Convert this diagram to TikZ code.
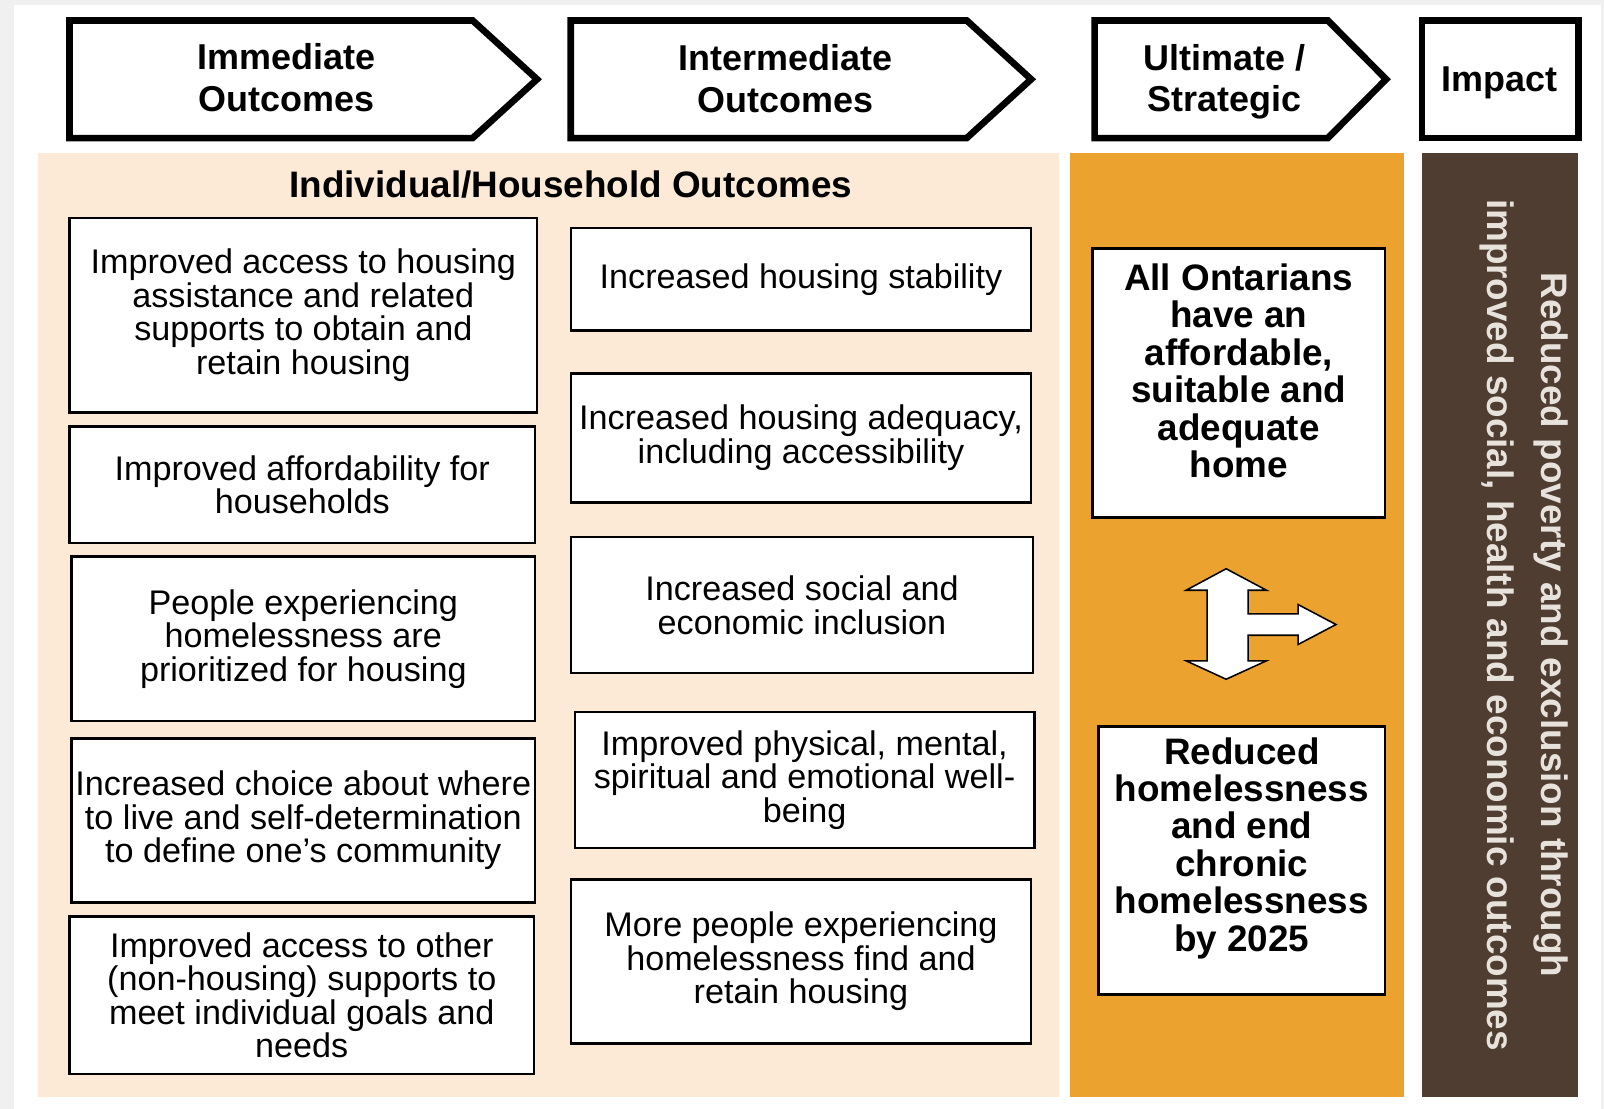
\documentclass[tikz,border=0pt]{standalone}
\usepackage{xcolor}
\usepackage{fontspec}
\setmainfont{Liberation Sans}
\usepackage{tikz}
\usetikzlibrary{calc}
\newcommand{\outcomefont}{\fontsize{19}{18.6}\selectfont}
\newcommand{\headerfont}{\fontsize{20}{23}\selectfont\bfseries}
\newcommand{\goalfont}{\fontsize{20.5}{20.8}\selectfont\bfseries}
\newcommand{\impactfont}{\fontsize{20.5}{30}\selectfont\bfseries}
\tikzset{
  outcomebox/.style={draw, fill=white, line width=0.050000cm, inner sep=0pt, align=center, font=\outcomefont},
  goalbox/.style={draw, fill=white, line width=0.050000cm, inner sep=0pt},
  goaltext/.style={align=center, font=\goalfont},
  headertext/.style={align=center, font=\headerfont},
  headerline/.style={line width=0.130000cm, fill=white, line join=miter}
}

\begin{document}
\begin{tikzpicture}
                            \useasboundingbox (0.000000,0.000000) rectangle (31.360000,21.680000);
                            % Changing colors
                            \definecolor{r240g240b240}{rgb}{0.941176,0.941176,0.941176}%
                            \definecolor{r252g234b214}{rgb}{0.988235,0.917647,0.839216}%
                            \definecolor{r236g162b46}{rgb}{0.925490,0.635294,0.180392}%
                            \definecolor{r78g61b48}{rgb}{0.305882,0.239216,0.188235}%
                            \definecolor{r232g226b220}{rgb}{0.909804,0.886275,0.862745}%

                            % Drawing page background
                            \fill [r240g240b240] (0.000000,0.000000) rectangle (31.360000,21.680000);%
                            \fill [white] (0.280000,0.000000) rectangle (31.300000,21.590000);%

                            % Drawing header arrows
                            \draw [headerline] (1.360000,21.280000) -- (9.240000,21.280000) -- (10.500000,20.130000) -- (9.240000,18.980000) -- (1.360000,18.980000) -- cycle;%
                            \draw [headerline] (11.160000,21.280000) -- (18.900000,21.280000) -- (20.160000,20.130000) -- (18.900000,18.980000) -- (11.160000,18.980000) -- cycle;%
                            \draw [headerline] (21.400000,21.280000) -- (25.960000,21.280000) -- (27.100000,20.130000) -- (25.960000,18.980000) -- (21.400000,18.980000) -- cycle;%
                            \draw [headerline] (27.800000,21.280000) rectangle (30.860000,18.980000);%
                            \draw (5.600000,20.160000) node (immhead) [headertext] {Immediate\\Outcomes};%
                            \draw (15.360000,20.140000) node (interhead) [headertext] {Intermediate\\Outcomes};%
                            \draw (23.940000,20.080000) node (ulthead) [headertext] {Ultimate /\\Strategic};%
                            \draw (29.320000,20.060000) node (impacthead) [headertext] {Impact};%

                            % Drawing column panels
                            \fill [r252g234b214] (0.740000,0.240000) rectangle (20.700000,18.680000);%
                            \fill [r236g162b46] (20.920000,0.240000) rectangle (27.440000,18.680000);%
                            \fill [r78g61b48] (27.800000,0.240000) rectangle (30.860000,18.680000);%
                            \draw (11.160000,18.080000) node (hhtitle) [font=\fontsize{20.5}{23}\selectfont\bfseries] {Individual/Household Outcomes};%

                            % Drawing immediate outcomes
                            \draw (5.930000,15.520000) node (imm1) [outcomebox, minimum width=9.140000cm, minimum height=3.800000cm] {Improved access to housing\\assistance and related\\supports to obtain and\\retain housing};%
                            \draw (5.910000,12.200000) node (imm2) [outcomebox, minimum width=9.100000cm, minimum height=2.280000cm] {Improved affordability for\\households};%
                            \draw (5.930000,9.190000) node (imm3) [outcomebox, minimum width=9.060000cm, minimum height=3.220000cm] {People experiencing\\homelessness are\\prioritized for housing};%
                            \draw (5.930000,5.640000) node (imm4) [outcomebox, minimum width=9.060000cm, minimum height=3.200000cm] {Increased choice about where\\to live and self-determination\\to define one’s community};%
                            \draw (5.900000,2.220000) node (imm5) [outcomebox, minimum width=9.080000cm, minimum height=3.080000cm] {Improved access to other\\(non-housing) supports to\\meet individual goals and\\needs};%

                            % Drawing intermediate outcomes
                            \draw (15.660000,16.220000) node (inter1) [outcomebox, minimum width=9.000000cm, minimum height=2.000000cm] {Increased housing stability};%
                            \draw (15.660000,13.120000) node (inter2) [outcomebox, minimum width=9.000000cm, minimum height=2.520000cm] {Increased housing adequacy,\\including accessibility};%
                            \draw (15.680000,9.850000) node (inter3) [outcomebox, minimum width=9.040000cm, minimum height=2.660000cm] {Increased social and\\economic inclusion};%
                            \draw (15.730000,6.430000) node (inter4) [outcomebox, minimum width=8.980000cm, minimum height=2.660000cm] {Improved physical, mental,\\spiritual and emotional well-\\being};%
                            \draw (15.660000,2.880000) node (inter5) [outcomebox, minimum width=9.000000cm, minimum height=3.200000cm] {More people experiencing\\homelessness find and\\retain housing};%

                            % Drawing ultimate / strategic outcomes
                            \draw (24.220000,14.190000) node (goal1) [goalbox, minimum width=5.720000cm, minimum height=5.260000cm] {};%
                            \draw (24.220000,14.430000) node (goal1txt) [goaltext] {All Ontarians\\have an\\affordable,\\suitable and\\adequate\\home};%
                            \draw (24.280000,4.860000) node (goal2) [goalbox, minimum width=5.600000cm, minimum height=5.240000cm] {};%
                            \draw (24.280000,5.100000) node (goal2txt) [goaltext] {Reduced\\homelessness\\and end\\chronic\\homelessness\\by 2025};%

                            % Drawing branching arrow
                            \draw [fill=white, line width=0.030000cm, line join=miter] (23.972000,10.560000) -- (24.760000,10.140000) -- (24.400000,10.140000) -- (24.400000,9.680000) -- (25.380000,9.680000) -- (25.380000,9.860000) -- (26.120000,9.470000) -- (25.380000,9.080000) -- (25.380000,9.260000) -- (24.400000,9.260000) -- (24.400000,8.760000) -- (24.760000,8.760000) -- (23.972000,8.400000) -- (23.190000,8.760000) -- (23.600000,8.760000) -- (23.600000,10.140000) -- (23.190000,10.140000) -- cycle;%

                            % Drawing impact text
                            \draw (29.800000,9.460000) node (impact) [rotate=-90, align=center, text=r232g226b220, font=\impactfont] {Reduced poverty and exclusion through\\improved social, health and economic outcomes};%
                            \end{tikzpicture}
\end{document}
